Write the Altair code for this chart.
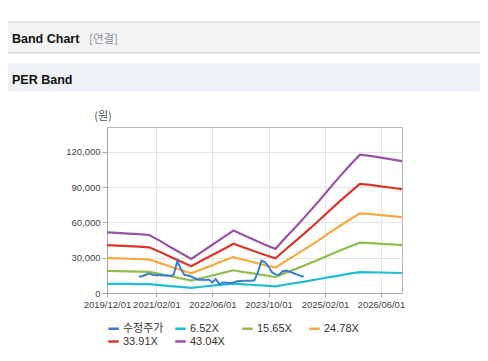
import altair as alt
import pandas as pd

# ---- data (values in KRW) ----
band_dates = ["2019/12/01", "2020/03/01", "2020/06/01", "2020/09/01", "2020/12/01",
              "2021/03/01", "2021/06/01", "2021/09/01", "2021/12/01", "2022/03/01",
              "2022/06/01", "2022/09/01", "2022/12/01", "2023/03/01", "2023/06/01",
              "2023/09/01", "2023/12/01", "2024/03/01", "2024/06/01", "2024/09/01",
              "2024/12/01", "2025/03/01", "2025/06/01", "2025/09/01", "2025/12/01",
              "2026/03/01", "2026/06/01", "2026/09/01", "2026/12/01"]

per_652 = [7.8, 7.7, 7.7, 7.6, 7.5, 6.7, 5.9, 5.2, 4.4, 5.3, 6.2, 7.1, 8.0, 7.4, 6.8,
           6.2, 5.7, 7.2, 8.6, 10.1, 11.7, 13.3, 14.8, 16.4, 17.8, 17.6, 17.4, 17.2, 17.0]
per_1565 = [18.7, 18.5, 18.4, 18.2, 17.9, 16.2, 14.2, 12.4, 10.5, 12.7, 14.9, 17.1, 19.3, 17.8, 16.4,
            14.9, 13.6, 17.3, 20.7, 24.4, 28.0, 31.8, 35.6, 39.3, 42.7, 42.4, 41.8, 41.3, 40.7]
per_2478 = [29.6, 29.4, 29.1, 28.8, 28.4, 25.6, 22.5, 19.6, 16.7, 20.2, 23.6, 27.1, 30.5, 28.2, 25.9,
            23.6, 21.6, 27.3, 32.8, 38.6, 44.3, 50.4, 56.4, 62.2, 67.6, 67.1, 66.2, 65.3, 64.5]
per_3391 = [40.6, 40.2, 39.8, 39.4, 38.8, 35.1, 30.7, 26.8, 22.8, 27.6, 32.3, 37.0, 41.8, 38.6, 35.5,
            32.3, 29.5, 37.4, 44.9, 52.8, 60.7, 68.9, 77.2, 85.1, 92.6, 91.8, 90.6, 89.4, 88.2]
per_4304 = [51.5, 51.0, 50.5, 50.0, 49.3, 44.5, 39.0, 34.0, 29.0, 35.0, 41.0, 47.0, 53.0, 49.0, 45.0,
            41.0, 37.5, 47.5, 57.0, 67.0, 77.0, 87.5, 98.0, 108.0, 117.5, 116.5, 115.0, 113.5, 112.0]

price_dates = ["2020/09/01", "2020/10/01", "2020/11/01", "2020/12/01", "2021/01/01", "2021/02/01",
               "2021/03/01", "2021/04/01", "2021/05/01", "2021/06/01", "2021/07/01", "2021/08/01",
               "2021/09/01", "2021/10/01", "2021/11/01", "2021/12/01", "2022/01/01", "2022/02/01",
               "2022/03/01", "2022/04/01", "2022/05/01", "2022/06/01", "2022/07/01", "2022/08/01",
               "2022/09/01", "2022/10/01", "2022/11/01", "2022/12/01", "2023/01/01", "2023/02/01",
               "2023/03/01", "2023/04/01", "2023/05/01", "2023/06/01", "2023/07/01", "2023/08/01",
               "2023/09/01", "2023/10/01", "2023/11/01", "2023/12/01", "2024/01/01", "2024/02/01",
               "2024/03/01", "2024/04/01", "2024/05/01", "2024/06/01", "2024/07/01", "2024/08/01"]
price = [14.0, 14.3, 15.5, 16.5, 15.5, 15.0, 15.3, 14.8, 15.0, 14.5, 15.5, 27.0,
         20.5, 15.5, 14.8, 14.0, 12.5, 11.3, 11.5, 11.0, 11.5, 9.0, 11.8, 7.6,
         9.0, 8.8, 8.5, 9.0, 10.0, 10.2, 10.3, 10.5, 10.5, 10.8, 17.5, 27.5,
         26.0, 22.5, 17.5, 15.8, 15.5, 18.5, 19.0, 18.0, 17.0, 15.8, 14.8, 13.8]

series_names = ["수정주가", "6.52X", "15.65X", "24.78X", "33.91X", "43.04X"]
series_colors = ["#3b7dd0", "#22bcd0", "#8fbe4c", "#f7a93b", "#d8362b", "#9b52a6"]
x_ticks = ["2019/12/01", "2021/02/01", "2022/06/01", "2023/10/01", "2025/02/01", "2026/06/01"]
y_ticks = [0, 30000, 60000, 90000, 120000]

# ---- tables ----
band_rows = []
for name, vals in zip(series_names[1:], [per_652, per_1565, per_2478, per_3391, per_4304]):
    for d, v in zip(band_dates, vals):
        band_rows.append({"date": d, "value": v * 1000, "series": name})
bands_df = pd.DataFrame(band_rows)
price_df = pd.DataFrame({"date": price_dates, "value": [v * 1000 for v in price],
                         "series": series_names[0]})


def dt(s):
    y, m, d = s.split("/")
    return alt.DateTime(year=int(y), month=int(m), date=int(d))


FONT = "Liberation Sans, Noto Sans CJK KR, sans-serif"

color = alt.Color("series:N",
                  scale=alt.Scale(domain=series_names, range=series_colors),
                  legend=alt.Legend(title=None, orient="none", legendX=0, legendY=195,
                                    direction="horizontal", columns=4, gridAlign="all",
                                    symbolType="stroke", symbolStrokeWidth=2.5, symbolSize=110,
                                    labelFont=FONT, labelFontSize=11, labelColor="#333",
                                    labelOffset=3, columnPadding=6, rowPadding=1, padding=0))

x_enc = alt.X("date:T",
              scale=alt.Scale(domain=[dt("2019/12/01"), dt("2026/12/01")]),
              axis=alt.Axis(title=None, values=[dt(t) for t in x_ticks], format="%Y/%m/%d",
                            labelOverlap=False, labelFlush=False, tickSize=4, labelPadding=2))
y_enc = alt.Y("value:Q",
              scale=alt.Scale(domain=[0, 141000], nice=False),
              axis=alt.Axis(title=None, values=y_ticks, format=",d", tickSize=5, labelPadding=2,
                            labelFlush=False))

bands = alt.Chart(bands_df).mark_line(strokeWidth=2.2).encode(
    x=x_enc, y=y_enc, color=color, detail="series:N")
price_line = alt.Chart(price_df).mark_line(strokeWidth=2).encode(
    x=x_enc, y=y_enc, color=color)

one = alt.Data(values=[{}])

bar1 = alt.Chart(one).mark_rect(color="#f4f4f4").encode(
    x=alt.value(-99), x2=alt.value(373), y=alt.value(-105), y2=alt.value(-75))
bar1_top = alt.Chart(one).mark_rule(color="#cccccc", strokeWidth=1).encode(
    x=alt.value(-99), x2=alt.value(373), y=alt.value(-105))
bar1_shadow = alt.Chart(one).mark_rect(color="#e0e0e0").encode(
    x=alt.value(-99), x2=alt.value(373), y=alt.value(-75), y2=alt.value(-73))
bar2 = alt.Chart(one).mark_rect(color="#eef2f7").encode(
    x=alt.value(-99), x2=alt.value(373), y=alt.value(-64), y2=alt.value(-35))

t1 = alt.Chart(one).mark_text(align="left", baseline="alphabetic", font=FONT, fontSize=12.5,
                              fontWeight="bold", color="#111").encode(
    x=alt.value(-95), y=alt.value(-84), text=alt.value("Band Chart"))
t2 = alt.Chart(one).mark_text(align="left", baseline="alphabetic", font="Noto Sans CJK KR",
                              fontSize=11.5, color="#8a90a0").encode(
    x=alt.value(-18), y=alt.value(-84), text=alt.value("[연결]"))
t3 = alt.Chart(one).mark_text(align="left", baseline="alphabetic", font=FONT, fontSize=12.5,
                              fontWeight="bold", color="#111").encode(
    x=alt.value(-95), y=alt.value(-43), text=alt.value("PER Band"))
t4 = alt.Chart(one).mark_text(align="center", baseline="alphabetic", font="Noto Sans CJK KR",
                              fontSize=11, color="#555555").encode(
    x=alt.value(-4), y=alt.value(-7), text=alt.value("(원)"))

chart = alt.layer(bar1, bar1_top, bar1_shadow, bar2, t1, t2, t3, t4, bands, price_line).properties(
    width=295, height=166,
    padding={"left": 99, "top": 119, "right": 78, "bottom": 60},
    autosize=alt.AutoSizeParams(type="none"),
).configure_view(stroke="#b8b8b8").configure_axis(
    gridColor="#e4e4e4", domainColor="#a8a8a8", tickColor="#a8a8a8",
    labelColor="#444", labelFont=FONT, labelFontSize=9.5,
)

chart.save("out.html", embed_options={"renderer": "svg", "actions": False})
